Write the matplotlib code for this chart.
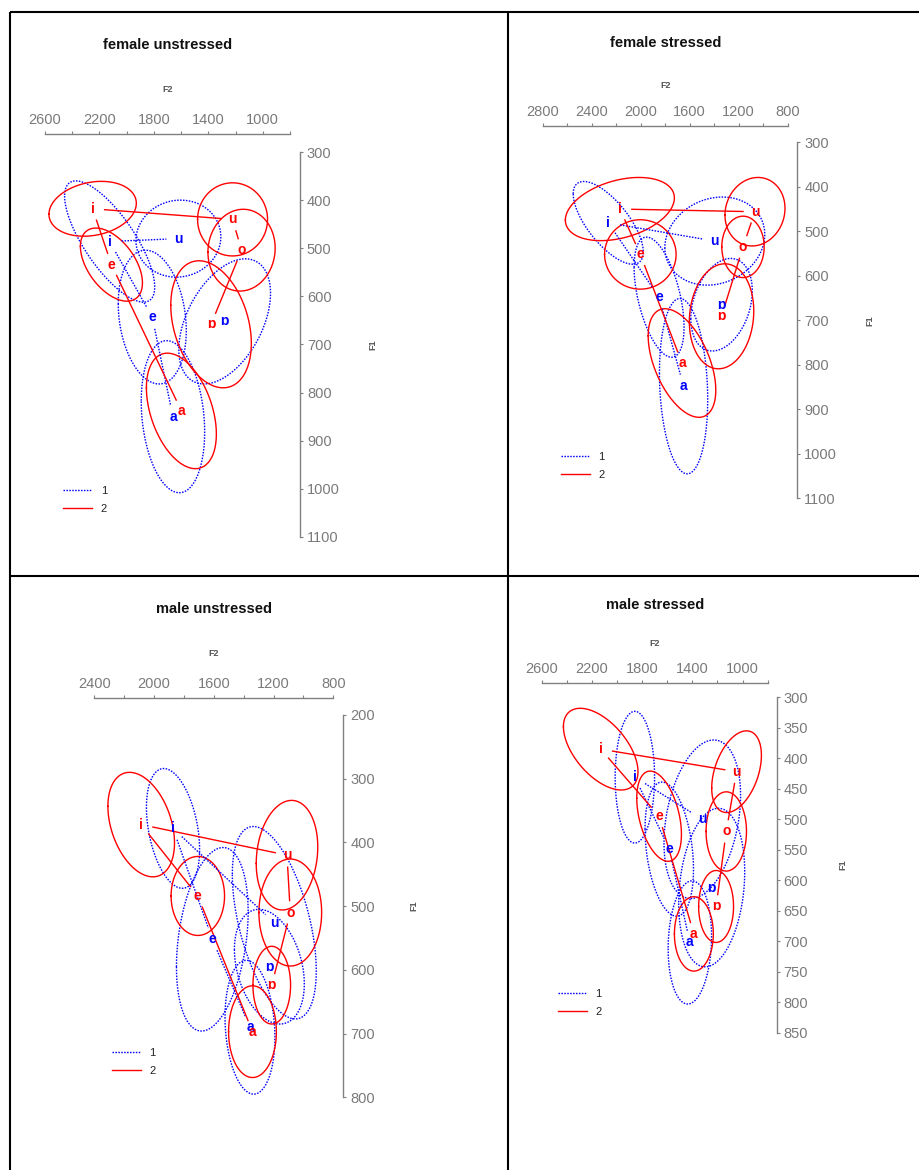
import numpy as np
import matplotlib.pyplot as plt
from matplotlib.lines import Line2D

plt.rcParams['font.family'] = ['Liberation Sans', 'DejaVu Sans']

W, H = 919, 1170
DPI = 100

BLUE = '#0000ff'
RED = '#ff0000'
GREY = '#808080'
DOTS = (0, (1.1, 1.0))

# vowel, mean F2, mean F1, F2 half-width, F1 half-width, F2/F1 correlation
female_unstressed_1 = [
    ('i', 2125, 486, 331, 126, -0.75),
    ('e', 1812, 643, 250, 139, -0.2),
    ('a', 1660, 850, 233, 158, -0.2),
    ('ɒ', 1280, 652, 337, 130, 0.45),
    ('u', 1620, 480, 312, 80, 0.05),
]
female_unstressed_2 = [
    ('i', 2250, 418, 321, 57, 0.2),
    ('e', 2112, 534, 228, 76, -0.5),
    ('a', 1598, 838, 257, 120, -0.4),
    ('ɒ', 1380, 658, 296, 132, -0.3),
    ('o', 1156, 504, 247, 85, 0.05),
    ('u', 1222, 440, 257, 76, 0.0),
]
female_stressed_1 = [
    ('i', 2265, 481, 286, 93, -0.7),
    ('e', 1850, 648, 204, 135, -0.5),
    ('a', 1650, 848, 197, 197, -0.15),
    ('ɒ', 1340, 665, 251, 104, 0.3),
    ('u', 1395, 522, 408, 99, 0.15),
]
female_stressed_2 = [
    ('i', 2170, 450, 445, 71, 0.35),
    ('e', 2003, 552, 292, 78, 0.0),
    ('a', 1663, 796, 276, 122, -0.5),
    ('ɒ', 1340, 691, 263, 118, 0.1),
    ('o', 1165, 535, 173, 69, 0.0),
    ('u', 1067, 456, 245, 77, 0.1),
]
male_unstressed_1 = [
    ('i', 1873, 378, 178, 94, -0.35),
    ('e', 1610, 552, 240, 144, 0.3),
    ('a', 1358, 690, 167, 105, -0.15),
    ('ɒ', 1228, 595, 234, 90, -0.3),
    ('u', 1195, 526, 281, 151, -0.5),
]
male_unstressed_2 = [
    ('i', 2086, 372, 223, 82, -0.35),
    ('e', 1707, 484, 179, 62, 0.0),
    ('a', 1341, 697, 160, 72, 0.0),
    ('ɒ', 1212, 624, 126, 61, 0.0),
    ('o', 1088, 510, 210, 84, 0.0),
    ('u', 1110, 420, 206, 86, 0.15),
]
male_stressed_1 = [
    ('i', 1858, 431, 157, 108, 0.0),
    ('e', 1584, 549, 193, 110, -0.3),
    ('a', 1420, 702, 173, 101, 0.1),
    ('ɒ', 1246, 612, 263, 130, 0.2),
    ('u', 1321, 500, 305, 130, 0.3),
]
male_stressed_2 = [
    ('i', 2130, 385, 297, 67, -0.55),
    ('e', 1665, 495, 178, 74, -0.4),
    ('a', 1388, 688, 155, 61, 0.0),
    ('ɒ', 1211, 643, 139, 59, 0.0),
    ('o', 1130, 520, 161, 65, 0.0),
    ('u', 1048, 422, 198, 67, 0.4),
]

# vowel pairs joined by a line
links = [('i', 'u'), ('i', 'e'), ('e', 'a'), ('u', 'o'), ('o', 'ɒ')]

# panel layout in pixels: plot box (x0, x1, y0, y1), axis positions, text positions
panels = [
    dict(title='female unstressed', g1=female_unstressed_1, g2=female_unstressed_2,
         box=(45, 290, 152, 537), f2=(2600, 800), f1=(300, 1100), f1step=100,
         top=134, right=300, title_y=45, f2lab_y=90, f1lab_x=373, leg=(63, 493)),
    dict(title='female stressed', g1=female_stressed_1, g2=female_stressed_2,
         box=(542.7, 787.7, 142.3, 498.3), f2=(2800, 800), f1=(300, 1100), f1step=100,
         top=126, right=797.3, title_y=43, f2lab_y=85, f1lab_x=870, leg=(560.7, 459)),
    dict(title='male unstressed', g1=male_unstressed_1, g2=male_unstressed_2,
         box=(94.3, 333.3, 715, 1097.3), f2=(2400, 800), f1=(200, 800), f1step=100,
         top=698.3, right=343.3, title_y=609.3, f2lab_y=654, f1lab_x=414, leg=(111.7, 1055)),
    dict(title='male stressed', g1=male_stressed_1, g2=male_stressed_2,
         box=(541.7, 767.7, 697.3, 1032.7), f2=(2600, 800), f1=(300, 850), f1step=50,
         top=682.7, right=776.7, title_y=605, f2lab_y=644, f1lab_x=843.3, leg=(557.7, 996)),
]


def draw_ellipse(ax, cx, cy, sx, sy, r, **kw):
    t = np.linspace(0, 2 * np.pi, 241)
    x = cx + sx * np.cos(t)
    y = cy + sy * (r * np.cos(t) + np.sqrt(1 - r * r) * np.sin(t))
    ax.plot(x, y, clip_on=False, **kw)


def draw_link(ax, p, q, gap=12, **kw):
    # segment between two means, pulled back from each label by `gap` pixels
    a, b = ax.transData.transform([p, q])
    d = b - a
    n = np.hypot(*d)
    if n <= 2 * gap:
        return
    u = d / n
    pts = ax.transData.inverted().transform([a + u * gap, b - u * gap])
    ax.plot(pts[:, 0], pts[:, 1], clip_on=False, **kw)


fig = plt.figure(figsize=(W / DPI, H / DPI), dpi=DPI)
bg = fig.add_axes([0, 0, 1, 1])
bg.set_xlim(0, W)
bg.set_ylim(H, 0)
bg.axis('off')

# table frame
frame_kw = dict(color='black', lw=1.5, solid_capstyle='butt')
bg.plot([10, W], [12, 12], **frame_kw)
bg.plot([10, W], [575.5, 575.5], **frame_kw)
bg.plot([10, 10], [12, H], **frame_kw)
bg.plot([508, 508], [12, H], **frame_kw)

for p in panels:
    x0, x1, y0, y1 = p['box']
    ax = fig.add_axes([x0 / W, 1 - y1 / H, (x1 - x0) / W, (y1 - y0) / H])
    ax.patch.set_alpha(0)
    ax.set_xlim(p['f2'][0], p['f2'][1])
    ax.set_ylim(p['f1'][1], p['f1'][0])

    for side in ('bottom', 'left'):
        ax.spines[side].set_visible(False)
    ax.spines['top'].set_position(('outward', (y0 - p['top']) * 72 / DPI))
    ax.spines['right'].set_position(('outward', (p['right'] - x1) * 72 / DPI))
    for side in ('top', 'right'):
        ax.spines[side].set_color(GREY)
        ax.spines[side].set_linewidth(1.0)

    ax.xaxis.tick_top()
    ax.yaxis.tick_right()
    hi, lo = p['f2']
    ax.set_xticks(np.arange(hi, lo - 1, -400))
    ax.set_xticks(np.arange(hi, lo - 1, -200), minor=True)
    ax.set_yticks(np.arange(p['f1'][0], p['f1'][1] + 1, p['f1step']))
    ax.tick_params(which='both', direction='out', length=2, width=0.8,
                   color=GREY, labelcolor='#7a7a7a', labelsize=10.5)
    ax.tick_params(axis='x', which='major', pad=3)
    ax.tick_params(axis='y', which='major', pad=3)

    groups = [(p['g1'], BLUE, DOTS), (p['g2'], RED, '-')]
    for rows, col, ls in groups:
        for v, f2, f1, sx, sy, r in rows:
            draw_ellipse(ax, f2, f1, sx, sy, r, color=col, ls=ls, lw=1.0)
    for rows, col, ls in groups:
        means = {v: (f2, f1) for v, f2, f1, *_ in rows}
        for a, b in links:
            if a in means and b in means:
                draw_link(ax, means[a], means[b], color=col, ls=ls, lw=1.0)
    for rows, col, ls in groups:
        for v, f2, f1, *_ in rows:
            ax.text(f2, f1, v, color=col, fontsize=10, fontweight='bold',
                    ha='center', va='center', clip_on=False)

    cx = (x0 + x1) / 2
    cy = (y0 + y1) / 2
    bg.text(cx, p['title_y'], p['title'], fontsize=10.5, fontweight='bold',
            ha='center', va='center', color='#111111')
    bg.text(cx, p['f2lab_y'], 'F2', fontsize=6.5, fontweight='bold',
            ha='center', va='center', color='#555555')
    bg.text(p['f1lab_x'], cy, 'F1', fontsize=6.5, fontweight='bold', rotation=90,
            ha='center', va='center', color='#555555')

    handles = [Line2D([], [], color=BLUE, ls=DOTS, lw=1.0),
               Line2D([], [], color=RED, ls='-', lw=1.0)]
    lx, ly = p['leg']
    ax.legend(handles, ['1', '2'], loc='upper left', frameon=False,
              bbox_to_anchor=(lx / W, 1 - (ly - 7) / H), bbox_transform=fig.transFigure,
              borderpad=0, borderaxespad=0, fontsize=8, handlelength=2.6,
              handletextpad=0.8, labelspacing=0.75, labelcolor='#222222')

fig.savefig('out.png', dpi=DPI)
